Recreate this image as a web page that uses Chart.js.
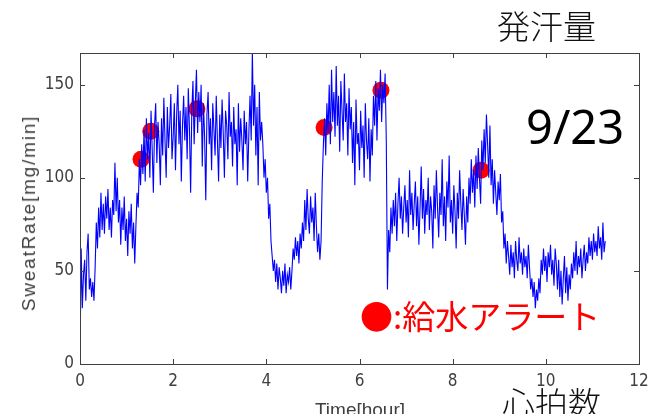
<!DOCTYPE html>
<html>
<head>
<meta charset="utf-8">
<script src="https://cdn.jsdelivr.net/npm/chart.js@4/dist/chart.umd.min.js"></script>
<style>
  body { margin: 0; width: 666px; height: 414px; overflow: hidden; background: #fff; position: relative; }
  #chart { position: absolute; left: 0; top: 0; }
  .note { position: absolute; white-space: nowrap; line-height: 1; }
  .jp { font-family: 'Noto Sans CJK JP', sans-serif; font-weight: 300; }
</style>
</head>
<body>
<canvas id="chart" width="666" height="414"></canvas>
<div class="note" style="left:29px; top:213px; transform: translate(-50%, -50%) rotate(-90deg); font: 19px 'Liberation Sans', sans-serif; letter-spacing: 1.8px; color:#404040;">SweatRate[mg/min]</div>
<div class="note" style="left:360px; top:399px; transform: translateX(-50%); font: 19px 'Liberation Sans', sans-serif; color:#404040;">Time[hour]</div>
<div class="note jp" style="left:497px; top:9px; font-size: 33px; color:#111;">発汗量</div>
<div class="note" style="left:526px; top:94px; font: 47px 'Noto Sans', sans-serif; color:#000;">9/23</div>
<div class="note jp" style="left:360px; top:299px; font-size: 33px; font-weight: 400; color:#ff0000;">●:給水アラート</div>
<div class="note jp" style="left:502px; top:386px; font-size: 33px; color:#111;">心拍数</div>

<script>
// 発汗量データ (0.025時間ごと, 画像から読み取り)
const sampleStep = 0.025;
const sweatRate = [
  0, 62, 30, 48, 56, 34, 60, 70, 40, 46,
  36, 44, 34, 52, 76, 62, 84, 68, 92, 72,
  86, 70, 90, 78, 94, 72, 84, 68, 88, 80,
  108, 82, 100, 76, 88, 64, 84, 72, 90, 66,
  78, 58, 82, 70, 86, 62, 76, 54, 74, 92,
  84, 110, 96, 118, 102, 126, 98, 132, 110, 124,
  100, 136, 115, 92, 128, 140, 108, 130, 118, 96,
  132, 112, 143, 120, 100, 138, 116, 128, 145, 110,
  122, 140, 104, 134, 150, 118, 136, 98, 128, 144,
  120, 138, 110, 148, 126, 92, 136, 152, 118, 140,
  158, 124, 146, 130, 150, 106, 140, 122, 88, 134,
  146, 118, 132, 104, 140, 126, 112, 144, 120, 98,
  134, 116, 142, 124, 100, 136, 128, 110, 146, 122,
  130, 106, 138, 118, 126, 96, 140, 114, 132, 120,
  104, 136, 118, 130, 98, 124, 144, 120, 168, 128,
  150, 112, 138, 96, 146, 120, 130, 118, 100, 110,
  92, 100, 78, 86, 66, 58, 50, 56, 44, 54,
  40, 52, 46, 38, 50, 42, 54, 38, 48, 44,
  52, 40, 50, 62, 56, 68, 58, 66, 54, 70,
  62, 76, 66, 88, 72, 94, 78, 70, 90, 76,
  84, 66, 92, 74, 60, 70, 56, 66, 98, 118,
  132, 112, 140, 124, 150, 118, 158, 130, 146, 122,
  160, 128, 144, 114, 152, 136, 120, 156, 130, 140,
  112, 148, 126, 138, 108, 130, 96, 142, 118, 124,
  104, 136, 116, 128, 100, 140, 120, 110, 132, 98,
  126, 112, 144, 128, 152, 120, 148, 136, 158, 130,
  150, 140, 156, 120, 40, 72, 60, 84, 70, 88,
  74, 92, 66, 86, 100, 78, 90, 70, 84, 96,
  76, 88, 68, 104, 80, 92, 72, 86, 98, 74,
  90, 64, 84, 106, 78, 94, 70, 88, 80, 100,
  72, 90, 82, 62, 96, 78, 104, 84, 68, 92,
  80, 110, 74, 90, 66, 98, 84, 112, 76, 88,
  70, 96, 82, 62, 92, 78, 104, 86, 72, 94,
  80, 64, 90, 76, 100, 86, 110, 92, 104, 84,
  112, 94, 116, 100, 86, 120, 104, 126, 108, 134,
  118, 100, 128, 96, 110, 86, 104, 92, 80, 98,
  88, 102, 76, 82, 62, 70, 54, 66, 58, 48,
  64, 52, 60, 46, 66, 56, 50, 68, 54, 60,
  48, 62, 52, 58, 46, 64, 52, 40, 46, 36,
  44, 30, 40, 34, 46, 38, 56, 48, 62, 50,
  58, 44, 60, 52, 64, 48, 56, 42, 62, 54,
  40, 56, 36, 50, 32, 46, 58, 38, 52, 34,
  48, 40, 54, 46, 60, 50, 66, 48, 58, 52,
  62, 46, 56, 64, 50, 60, 54, 68, 58, 66,
  56, 70, 60, 66, 58, 74, 62, 68, 56, 76,
  60, 66
];

// 給水アラート
const alertHours = [1.31, 1.52, 2.51, 5.24, 6.46, 8.61];
const alertValues = [110, 125, 137, 127, 147, 104];

const xTicks = [0, 2, 4, 6, 8, 10, 12];
const yTicks = [0, 50, 100, 150];

const axisColor = "#404040";
const tickFont = { family: "'Liberation Sans Narrow', 'DejaVu Sans Condensed', sans-serif", size: 17 };

const sweatPoints = sweatRate.map((v, i) => ({ x: i * sampleStep, y: v }));
const alertPoints = alertHours.map((h, i) => ({ x: h, y: alertValues[i] }));

// 枠と内向きの目盛り線
const boxPlugin = {
  id: "box",
  afterDatasetsDraw(chart) {
    const { ctx, chartArea: a, scales } = chart;
    ctx.save();
    ctx.strokeStyle = axisColor;
    ctx.lineWidth = 1;
    ctx.beginPath();
    xTicks.forEach((t) => {
      const px = Math.round(scales.x.getPixelForValue(t)) + 0.5;
      ctx.moveTo(px, a.bottom); ctx.lineTo(px, a.bottom - 5);
      ctx.moveTo(px, a.top); ctx.lineTo(px, a.top + 5);
    });
    yTicks.forEach((t) => {
      const py = Math.round(scales.y.getPixelForValue(t)) + 0.5;
      ctx.moveTo(a.left, py); ctx.lineTo(a.left + 5, py);
      ctx.moveTo(a.right, py); ctx.lineTo(a.right - 5, py);
    });
    ctx.stroke();
    ctx.strokeRect(Math.round(a.left) + 0.5, Math.round(a.top) + 0.5,
      Math.round(a.right - a.left), Math.round(a.bottom - a.top));
    ctx.restore();
  },
};

new Chart(document.getElementById("chart"), {
  type: "line",
  data: {
    datasets: [
      {
        label: "SweatRate",
        data: sweatPoints,
        borderColor: "#0000ff",
        borderWidth: 1.1,
        pointRadius: 0,
        tension: 0,
      },
      {
        type: "scatter",
        label: "給水アラート",
        data: alertPoints,
        backgroundColor: "#ff0000",
        borderWidth: 0,
        pointRadius: 8.5,
      },
    ],
  },
  options: {
    responsive: false,
    devicePixelRatio: 1,
    animation: false,
    layout: { padding: { left: 0, top: 53, right: 27, bottom: 0 } },
    plugins: { legend: { display: false }, tooltip: { enabled: false } },
    scales: {
      x: {
        type: "linear",
        min: 0,
        max: 12,
        grid: { display: false, drawTicks: false },
        border: { display: false },
        ticks: { color: axisColor, font: tickFont, padding: 7, maxRotation: 0 },
        afterBuildTicks: (scale) => { scale.ticks = xTicks.map((v) => ({ value: v })); },
        afterFit: (scale) => { scale.height = 50; },
      },
      y: {
        min: 0,
        max: 167,
        grid: { display: false, drawTicks: false },
        border: { display: false },
        ticks: { color: axisColor, font: tickFont, padding: 6 },
        afterBuildTicks: (scale) => { scale.ticks = yTicks.map((v) => ({ value: v })); },
        afterFit: (scale) => { scale.width = 80; },
      },
    },
  },
  plugins: [boxPlugin],
});
</script>
</body>
</html>
